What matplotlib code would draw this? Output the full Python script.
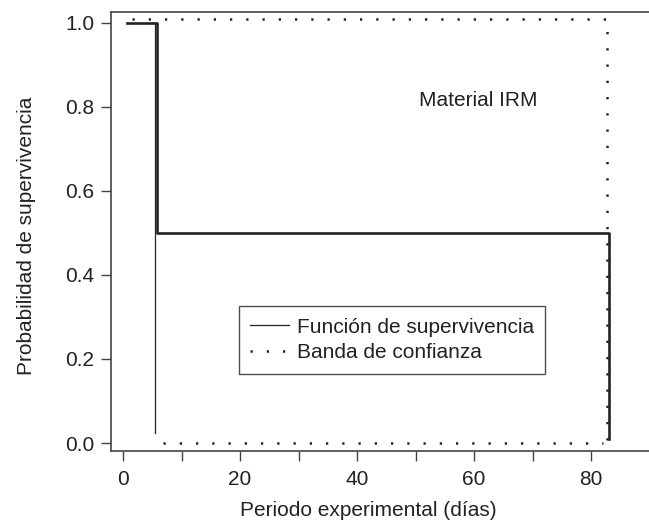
import matplotlib
matplotlib.use("Agg")
import matplotlib.pyplot as plt
from matplotlib.lines import Line2D

plt.rcParams['font.family'] = ['Liberation Sans', 'DejaVu Sans']

# Kaplan-Meier survival function
km_time = [0.6, 5.8, 83.0, 83.0]
km_surv = [1.0, 0.5, 0.5, 0.01]
# lower confidence band (solid part then dotted)
low_time = [5.5, 5.5]
low_vals = [1.0, 0.025]
low_dot_time = [6.8, 82.0]
low_dot_vals = [0.0, 0.0]
# upper confidence band
up_time = [1.5, 82.8, 82.8]
up_vals = [1.01, 1.01, 0.0]

xticks = [0, 10, 20, 30, 40, 50, 60, 70, 80]
xticklabels = ['0', '', '20', '', '40', '', '60', '', '80']
yticks = [0.0, 0.2, 0.4, 0.6, 0.8, 1.0]
yticklabels = ['0.0', '0.2', '0.4', '0.6', '0.8', '1.0']
legend_labels = ['Función de supervivencia', 'Banda de confianza']

W, H = 649, 523
fig = plt.figure(figsize=(W / 100, H / 100), dpi=100)
left, right, top, bottom = 111, 649, 12, 451
ax = fig.add_axes([left / W, (H - bottom) / H, (right - left) / W, (bottom - top) / H])

dark = '#222222'
dot_style = (0, (0.9, 5.6))

ax.plot(km_time, km_surv, drawstyle='steps-post', color=dark, lw=1.9)
ax.plot(low_time, low_vals, color=dark, lw=0.9)
ax.plot(low_dot_time, low_dot_vals, color=dark, lw=1.8, linestyle=dot_style)
ax.plot(up_time, up_vals, color=dark, lw=1.8, linestyle=dot_style)

ax.set_xlim(-2.05, 89.9)
ax.set_ylim(-0.019, 1.026)
ax.set_xticks(xticks)
ax.set_xticklabels(xticklabels)
ax.set_yticks(yticks)
ax.set_yticklabels(yticklabels)

fs = 15
ax.tick_params(axis='both', direction='out', length=7, width=1.0, color='#444444',
               labelsize=fs, labelcolor='#222222')
ax.tick_params(axis='x', pad=7)
ax.tick_params(axis='y', pad=5)
for s in ['left', 'bottom', 'top']:
    ax.spines[s].set_color('#444444')
    ax.spines[s].set_linewidth(1.2)
ax.spines['right'].set_visible(False)

ax.set_xlabel('Periodo experimental (días)', fontsize=fs, color='#222222', labelpad=8)
ax.xaxis.set_label_coords(0.478, -0.115)
ax.set_ylabel('Probabilidad de supervivencia', fontsize=fs, color='#222222')
ax.yaxis.set_label_coords(-0.139, 0.49)

ax.text(60.7, 0.815, 'Material IRM', fontsize=fs, color='#222222', ha='center', va='center')

handles = [Line2D([], [], color=dark, lw=0.9),
           Line2D([], [], color=dark, lw=1.8, linestyle=(0, (0.9, 5.6)))]
leg = ax.legend(handles, legend_labels, loc='center', bbox_to_anchor=(0.5223, 0.2528),
                fontsize=fs, frameon=True, fancybox=False, handlelength=1.85,
                handletextpad=0.4, borderpad=0.55, labelspacing=0.32, borderaxespad=0)
leg.get_frame().set_edgecolor('#222222')
leg.get_frame().set_linewidth(1.0)
for t in leg.get_texts():
    t.set_color('#222222')

fig.savefig('out.png', dpi=100)
